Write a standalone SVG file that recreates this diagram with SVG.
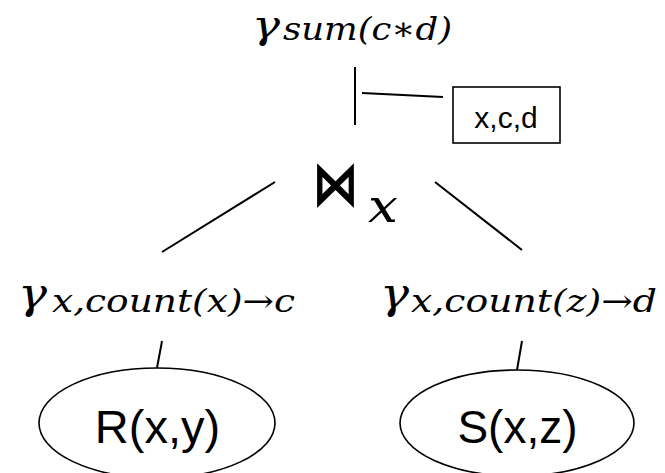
<svg xmlns="http://www.w3.org/2000/svg" width="665" height="473" viewBox="0 0 665 473">
<style>
.ln{stroke:#000;stroke-width:2;fill:none}
.el{stroke:#000;stroke-width:1.6;fill:#fff}
.m{font-family:"DejaVu Serif","Liberation Serif",serif;font-style:italic;fill:#000}
.g{font-size:42px}
.s{font-size:32px}
.t{font-family:"Liberation Sans",Arial,sans-serif;fill:#000}
</style>
<rect width="665" height="473" fill="#fff"/>
<g id="connectors">
<line class="ln" x1="355" y1="67" x2="355" y2="125"/>
<line class="ln" x1="362" y1="93" x2="443" y2="97"/>
<line class="ln" x1="275" y1="182" x2="162" y2="252"/>
<line class="ln" x1="435" y1="182" x2="522" y2="250"/>
<line class="ln" x1="162" y1="341" x2="157" y2="368"/>
<line class="ln" x1="522" y1="341" x2="517" y2="370"/>
</g>
<g id="gamma-sum">
<text class="m" x="252" y="37.5" font-size="40" textLength="28" lengthAdjust="spacingAndGlyphs">γ</text>
<text class="m s" x="283" y="40" textLength="169" lengthAdjust="spacingAndGlyphs">sum(c∗d)</text>
</g>
<g id="attrs">
<rect x="453" y="87" width="107" height="56" fill="#fff" stroke="#000" stroke-width="1.6"/>
<text class="t" x="506" y="128" font-size="30" text-anchor="middle">x,c,d</text>
</g>
<g id="join">
<text transform="translate(312,205) scale(0.75,1)" font-family="DejaVu Sans" font-weight="bold" font-size="62">⋈</text>
<text class="m" x="368" y="222" font-size="46" textLength="30" lengthAdjust="spacingAndGlyphs">x</text>
</g>
<g id="gamma-left">
<text class="m g" x="18" y="308" textLength="29" lengthAdjust="spacingAndGlyphs">γ</text>
<text class="m s" x="52" y="312" textLength="243" lengthAdjust="spacingAndGlyphs">x,count(x)→c</text>
</g>
<g id="gamma-right">
<text class="m g" x="380" y="308" textLength="29" lengthAdjust="spacingAndGlyphs">γ</text>
<text class="m s" x="411" y="312" textLength="246" lengthAdjust="spacingAndGlyphs">x,count(z)→d</text>
</g>
<g id="R">
<ellipse class="el" cx="157" cy="423" rx="118" ry="55"/>
<text class="t" x="157.5" y="443" font-size="47" text-anchor="middle">R(x,y)</text>
</g>
<g id="S">
<ellipse class="el" cx="517" cy="423" rx="117" ry="53"/>
<text class="t" x="517.5" y="443" font-size="46" text-anchor="middle">S(x,z)</text>
</g>
</svg>
